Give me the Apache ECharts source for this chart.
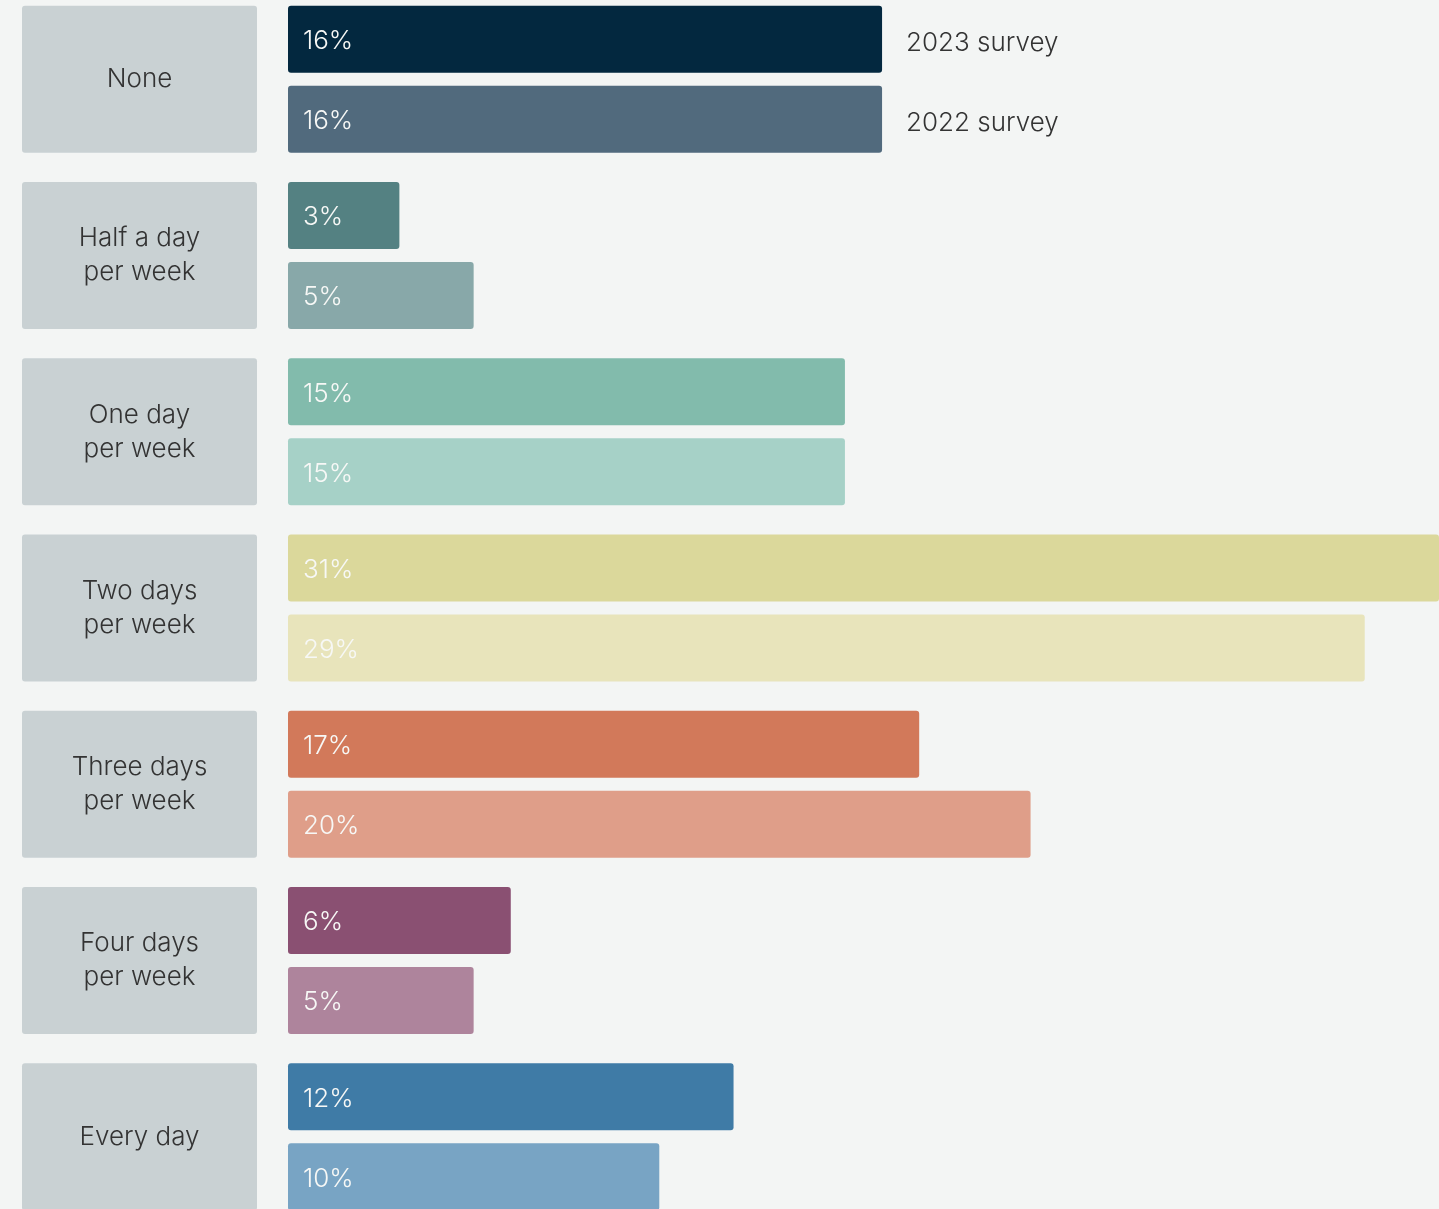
<!DOCTYPE html>
<html>
<head>
<meta charset="utf-8">
<title>Office attendance</title>
<script src="https://cdn.jsdelivr.net/npm/echarts@6/dist/echarts.min.js"></script>
<style>
  html, body { margin: 0; padding: 0; background: #f3f5f4; }
  #chart { width: 1439px; height: 1209px; }
</style>
</head>
<body>
<div id="chart"></div>
<script>
// Days per week spent in the office
const categories = [
  'None',
  'Half a day\nper week',
  'One day\nper week',
  'Two days\nper week',
  'Three days\nper week',
  'Four days\nper week',
  'Every day'
];
const seriesNames = ['2023 survey', '2022 survey'];
const survey2023 = [16, 3, 15, 31, 17, 6, 12];
const survey2022 = [16, 5, 15, 29, 20, 5, 10];

// Each category has its own hue; the older survey uses the lighter tint
const colors2023 = ['#03283f', '#548182', '#82bbac', '#dbd89b', '#d2795a', '#8a5072', '#3f7ba6'];
const colors2022 = ['#516a7d', '#88a8a9', '#a6d1c7', '#e8e4bb', '#df9e89', '#ae849c', '#78a4c4'];

const FONT = 'Inter, "Noto Sans", sans-serif';
const BOX_H = 147;
const LINE_H = 34;

// Category boxes: pad each label so its grey box is the same height
const yData = categories.map(function (c) {
  const lines = c.split('\n').length;
  const pad = (BOX_H - lines * LINE_H) / 2;
  return {
    value: c,
    textStyle: {
      align: 'center',
      verticalAlign: 'middle',
      padding: [pad + 2, 0, pad - 2, 0]
    }
  };
});

function barData(values, colors) {
  return values.map(function (v, i) {
    return { value: v, itemStyle: { color: colors[i] } };
  });
}

const barLabel = {
  show: true,
  position: 'insideLeft',
  distance: 15,
  offset: [0, 2],
  color: '#f7f8f6',
  fontFamily: FONT,
  fontSize: 26,
  fontWeight: 300,
  formatter: function (p) { return p.value + '%'; }
};

const chart = echarts.init(document.getElementById('chart'), null, { renderer: 'canvas' });
chart.setOption({
  backgroundColor: '#f3f5f4',
  animation: false,
  textStyle: { fontFamily: FONT },
  legend: {
    data: seriesNames,
    orient: 'vertical',
    left: 901,
    top: 28,
    padding: 0,
    icon: 'none',
    itemWidth: 0,
    itemHeight: 14,
    itemGap: 50,
    selectedMode: false,
    textStyle: { color: '#333333', fontSize: 26, fontWeight: 300, lineHeight: 30, fontFamily: FONT }
  },
  grid: {
    left: 288,
    right: 0,
    top: -9,
    height: 1234,
    containLabel: false,
    outerBoundsMode: 'none'
  },
  xAxis: {
    type: 'value',
    min: 0,
    max: 31,
    show: false
  },
  yAxis: {
    type: 'category',
    inverse: true,
    data: yData,
    axisLine: { show: false },
    axisTick: { show: false },
    splitLine: { show: false },
    axisLabel: {
      interval: 0,
      align: 'center',
      verticalAlign: 'middle',
      margin: 148.5,
      width: 235,
      lineHeight: LINE_H,
      backgroundColor: '#c9d1d3',
      borderRadius: 3,
      color: '#333333',
      fontFamily: FONT,
      fontSize: 26,
      fontWeight: 300
    }
  },
  series: [
    {
      name: seriesNames[0],
      type: 'bar',
      barWidth: 67,
      barGap: '19.4%',
      itemStyle: { borderRadius: 3, color: colors2023[0] },
      label: barLabel,
      data: barData(survey2023, colors2023)
    },
    {
      name: seriesNames[1],
      type: 'bar',
      barWidth: 67,
      barGap: '19.4%',
      itemStyle: { borderRadius: 3, color: colors2022[0] },
      label: barLabel,
      data: barData(survey2022, colors2022)
    }
  ]
});
</script>
</body>
</html>
